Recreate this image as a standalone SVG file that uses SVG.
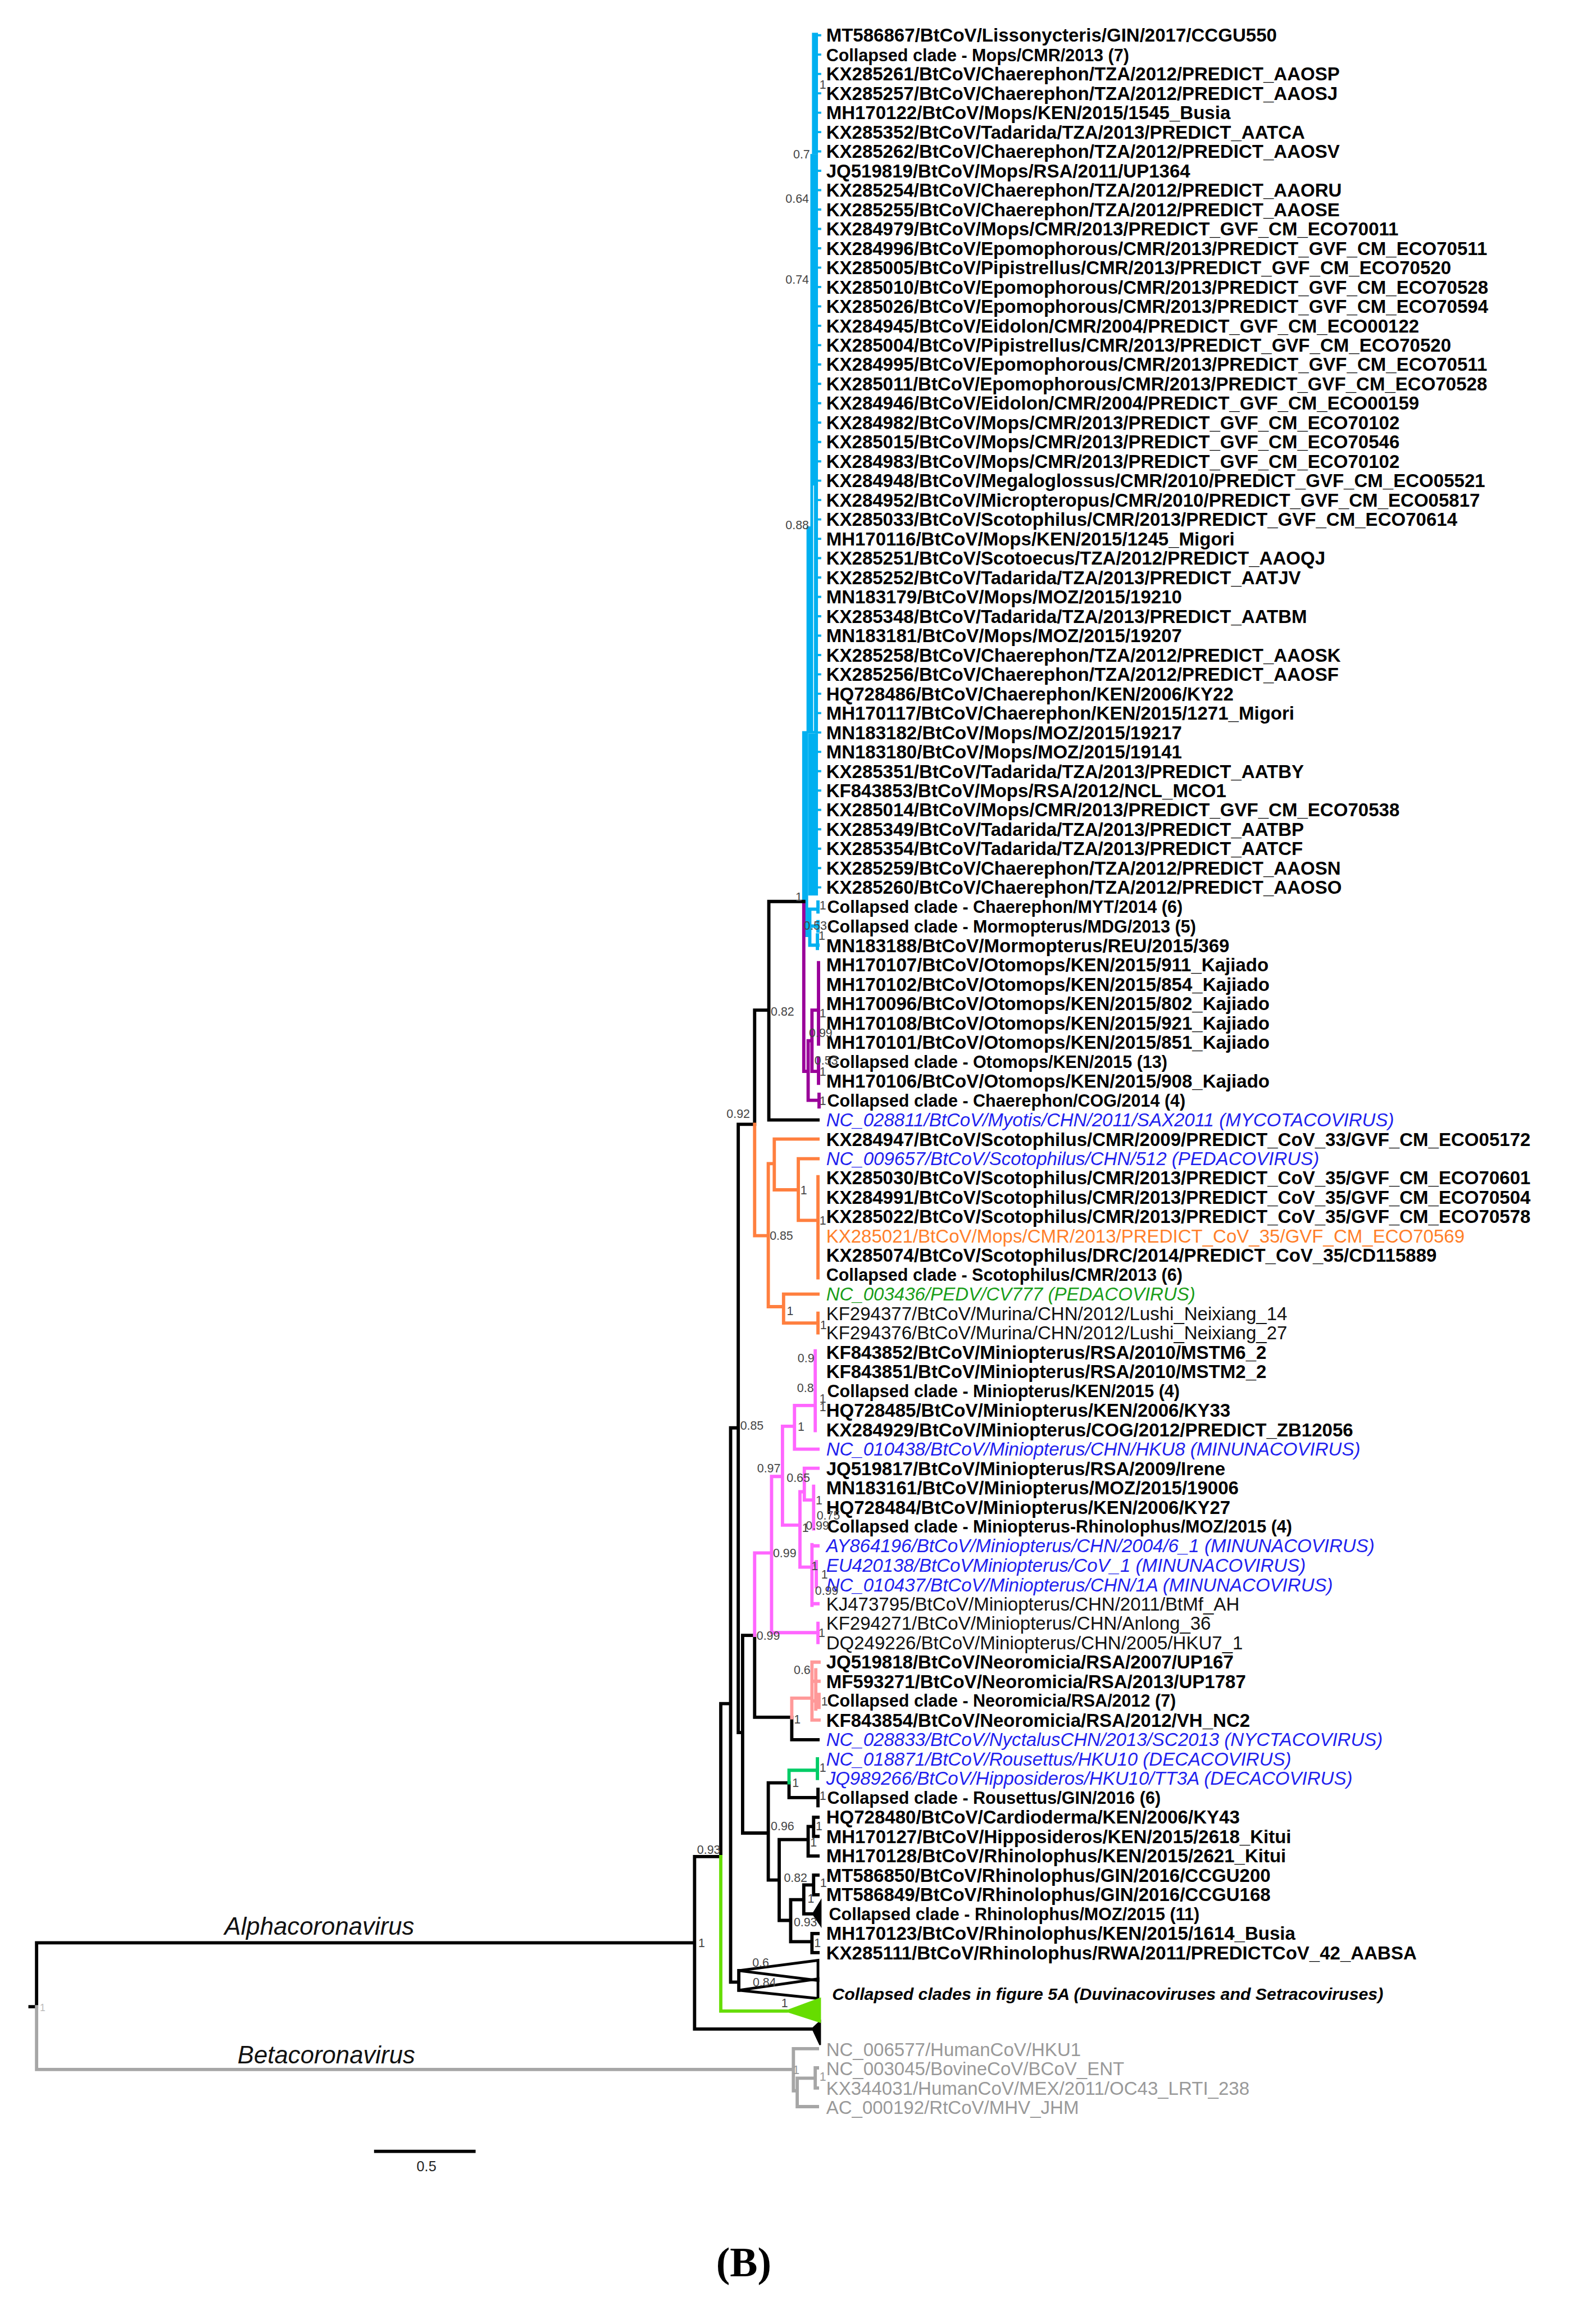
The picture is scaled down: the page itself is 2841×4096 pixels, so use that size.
<svg xmlns="http://www.w3.org/2000/svg" width="2841" height="4096" viewBox="0 0 2841 4096">
<style>
text{font-family:"Liberation Sans",Arial,sans-serif}
.br path,.br polyline{fill:none;stroke-width:6;stroke-linecap:square;stroke-linejoin:miter}
.k{stroke:#000}
.bl{stroke:#00B0F0}
.pu{stroke:#990099}
.or{stroke:#FF7F3F}
.pk{stroke:#FF66FF}
.sa{stroke:#FF9999}
.gr{stroke:#00CC66}
.li{stroke:#66DD00}
.gy{stroke:#A6A6A6}
.b{font-size:34px;font-weight:bold;fill:#000}
.c{font-size:31.4px;font-weight:bold;fill:#000}
.i{font-size:34px;font-style:italic;fill:#1f1fef}
.n{font-size:34px;fill:#111}
.o{font-size:34px;fill:#FF7F2A}
.g{font-size:34px;font-style:italic;fill:#1a9e1a}
.y{font-size:34px;fill:#999}
.s{font-size:22px;fill:#444;text-anchor:middle}
</style>
<rect width="2841" height="4096" fill="#fff"/>
<g transform="scale(0.972)">
<g id="connectors" class="br">
<g id="blue-clade">
<rect x="1487" y="60" width="11" height="222" fill="#00B0F0"/>
<rect x="1484" y="282" width="14" height="682" fill="#00B0F0"/>
<rect x="1477" y="964" width="21" height="379" fill="#00B0F0"/>
<rect x="1480" y="1343" width="18" height="297" fill="#00B0F0"/>
<path class="bl" d="M1472,1652V1342H1477 M1477,1343V1713H1483 M1483,1665V1731 M1483,1665H1498 M1483,1696H1498 M1483,1731H1498 M1498,1652V1670 M1498,1688V1705 M1497,1712V1737"/>
<path class="bl" style="stroke-width:4" d="M1495 64.5h7m-7 35.47h7m-7 35.47h7m-7 35.47h7m-7 35.47h7m-7 35.47h7m-7 35.47h7m-7 35.47h7m-7 35.47h7m-7 35.47h7m-7 35.47h7m-7 35.47h7m-7 35.47h7m-7 35.47h7m-7 35.47h7m-7 35.47h7m-7 35.47h7m-7 35.47h7m-7 35.47h7m-7 35.47h7m-7 35.47h7m-7 35.47h7m-7 35.47h7m-7 35.47h7m-7 35.47h7m-7 35.47h7m-7 35.47h7m-7 35.47h7m-7 35.47h7m-7 35.47h7m-7 35.47h7m-7 35.47h7m-7 35.47h7m-7 35.47h7m-7 35.47h7m-7 35.47h7m-7 35.47h7m-7 35.47h7m-7 35.47h7m-7 35.47h7m-7 35.47h7m-7 35.47h7m-7 35.47h7m-7 35.47h7m-7 35.47h7"/>
<path d="M1490,890V1338" style="stroke:#fff;stroke-width:1.5"/>
</g>
<path class="pu" d="M1472,1652V1962H1480 M1480,1906V2015H1500 M1500,2004V2027 M1480,1906H1487 M1487,1850V1962 M1487,1850H1499 M1499,1763V1912 M1487,1962H1499 M1499,1938V1984"/>
<path class="k" d="M55,3675H67 M67,3675V3558H1272 M1272,3400V3716 M1272,3400H1320V3120H1338 M1338,2615V3630H1353 M1353,3609V3645 M1338,2615H1352 M1352,2059V3173H1360 M1360,2995V3357 M1360,2995H1382V3145H1450V3186H1498 M1360,3357H1407 M1407,3265V3443 M1407,3265H1445 M1445,3265V3292H1498 M1498,3277V3307 M1407,3443H1427 M1427,3369V3517 M1427,3369H1480 M1480,3345V3399H1498 M1480,3345H1490 M1490,3328V3363 M1490,3328H1498 M1490,3363H1498 M1427,3517H1448 M1448,3479V3556 M1448,3479H1472 M1472,3452V3505H1490 M1472,3452H1490 M1490,3434V3470 M1490,3434H1498 M1490,3470H1498 M1448,3556H1487 M1487,3541V3576 M1487,3541H1498 M1487,3576H1498 M1272,3716H1490 M1352,2059H1382 M1382,2059V1850H1408 M1408,1651V2051H1498 M1408,1651H1472"/>
<polygon class="k" points="1353,3609 1498,3590 1498,3627" style="fill:none;stroke-width:5"/>
<polygon class="k" points="1353,3645 1498,3624 1498,3660" style="fill:none;stroke-width:5"/>
<polygon points="1488,3715 1502,3702 1502,3745" fill="#000" stroke="#000" stroke-width="3"/>
<polygon points="1489,3505 1503,3482 1503,3526" fill="#000" stroke="#000" stroke-width="3"/>
<path class="or" d="M1382,2059V2263H1407 M1407,2131V2393 M1407,2131H1418 M1418,2086V2179 M1418,2086H1498 M1418,2179H1462 M1462,2122V2235H1498 M1462,2122H1498 M1498,2155V2340 M1407,2393H1435 M1435,2370V2423H1498 M1435,2370H1498 M1498,2405V2441"/>
<path class="pk" d="M1382,2995V2844H1413 M1413,2704V2990H1498 M1498,2973V3008 M1413,2704H1433 M1433,2612V2793H1465 M1433,2612H1455 M1455,2574V2654H1498 M1455,2574H1493 M1493,2474V2620 M1465,2732V2870H1487 M1465,2732H1473 M1473,2689V2747H1490 M1473,2689H1498 M1490,2722V2800 M1487,2829V2940 M1487,2831H1498 M1487,2937H1498 M1487,2866H1495 M1495,2860V2906"/>
<path class="sa" d="M1450,3146V3110H1487 M1487,3044V3150 M1487,3044H1500 M1487,3079H1500 M1487,3115H1500 M1487,3150H1500 M1500,3103V3127 M1494,3058V3130"/>
<path class="gr" d="M1445,3265V3242H1497 M1497,3221V3257"/>
<path class="li" d="M1320,3400V3683H1440"/>
<polygon points="1440,3683 1502,3660 1502,3703" fill="#66DD00" stroke="#66DD00" stroke-width="3"/>
<path class="gy" d="M67,3675V3790H1453 M1453,3752V3829 M1453,3752H1497 M1453,3829H1460 M1460,3806V3858H1497 M1460,3806H1493 M1493,3787V3824 M1493,3787H1497 M1493,3824H1497"/>
<path class="k" d="M688,3940H868" style="stroke-width:6"/>
</g>
<g id="leaves">
<text id="n1" class="b" x="1513" y="76.5">MT586867/BtCoV/Lissonycteris/GIN/2017/CCGU550</text>
<text id="n2" class="c" x="1513" y="112">Collapsed clade - Mops/CMR/2013 (7)</text>
<text id="n3" class="b" x="1513" y="147.4">KX285261/BtCoV/Chaerephon/TZA/2012/PREDICT_AAOSP</text>
<text id="n4" class="b" x="1513" y="182.9">KX285257/BtCoV/Chaerephon/TZA/2012/PREDICT_AAOSJ</text>
<text id="n5" class="b" x="1513" y="218.4">MH170122/BtCoV/Mops/KEN/2015/1545_Busia</text>
<text id="n6" class="b" x="1513" y="253.9">KX285352/BtCoV/Tadarida/TZA/2013/PREDICT_AATCA</text>
<text id="n7" class="b" x="1513" y="289.3">KX285262/BtCoV/Chaerephon/TZA/2012/PREDICT_AAOSV</text>
<text id="n8" class="b" x="1513" y="324.8">JQ519819/BtCoV/Mops/RSA/2011/UP1364</text>
<text id="n9" class="b" x="1513" y="360.3">KX285254/BtCoV/Chaerephon/TZA/2012/PREDICT_AAORU</text>
<text id="n10" class="b" x="1513" y="395.7">KX285255/BtCoV/Chaerephon/TZA/2012/PREDICT_AAOSE</text>
<text id="n11" class="b" x="1513" y="431.2">KX284979/BtCoV/Mops/CMR/2013/PREDICT_GVF_CM_ECO70011</text>
<text id="n12" class="b" x="1513" y="466.7">KX284996/BtCoV/Epomophorous/CMR/2013/PREDICT_GVF_CM_ECO70511</text>
<text id="n13" class="b" x="1513" y="502.1">KX285005/BtCoV/Pipistrellus/CMR/2013/PREDICT_GVF_CM_ECO70520</text>
<text id="n14" class="b" x="1513" y="537.6">KX285010/BtCoV/Epomophorous/CMR/2013/PREDICT_GVF_CM_ECO70528</text>
<text id="n15" class="b" x="1513" y="573.1">KX285026/BtCoV/Epomophorous/CMR/2013/PREDICT_GVF_CM_ECO70594</text>
<text id="n16" class="b" x="1513" y="608.6">KX284945/BtCoV/Eidolon/CMR/2004/PREDICT_GVF_CM_ECO00122</text>
<text id="n17" class="b" x="1513" y="644">KX285004/BtCoV/Pipistrellus/CMR/2013/PREDICT_GVF_CM_ECO70520</text>
<text id="n18" class="b" x="1513" y="679.5">KX284995/BtCoV/Epomophorous/CMR/2013/PREDICT_GVF_CM_ECO70511</text>
<text id="n19" class="b" x="1513" y="715">KX285011/BtCoV/Epomophorous/CMR/2013/PREDICT_GVF_CM_ECO70528</text>
<text id="n20" class="b" x="1513" y="750.4">KX284946/BtCoV/Eidolon/CMR/2004/PREDICT_GVF_CM_ECO00159</text>
<text id="n21" class="b" x="1513" y="785.9">KX284982/BtCoV/Mops/CMR/2013/PREDICT_GVF_CM_ECO70102</text>
<text id="n22" class="b" x="1513" y="821.4">KX285015/BtCoV/Mops/CMR/2013/PREDICT_GVF_CM_ECO70546</text>
<text id="n23" class="b" x="1513" y="856.8">KX284983/BtCoV/Mops/CMR/2013/PREDICT_GVF_CM_ECO70102</text>
<text id="n24" class="b" x="1513" y="892.3">KX284948/BtCoV/Megaloglossus/CMR/2010/PREDICT_GVF_CM_ECO05521</text>
<text id="n25" class="b" x="1513" y="927.8">KX284952/BtCoV/Micropteropus/CMR/2010/PREDICT_GVF_CM_ECO05817</text>
<text id="n26" class="b" x="1513" y="963.3">KX285033/BtCoV/Scotophilus/CMR/2013/PREDICT_GVF_CM_ECO70614</text>
<text id="n27" class="b" x="1513" y="998.7">MH170116/BtCoV/Mops/KEN/2015/1245_Migori</text>
<text id="n28" class="b" x="1513" y="1034.2">KX285251/BtCoV/Scotoecus/TZA/2012/PREDICT_AAOQJ</text>
<text id="n29" class="b" x="1513" y="1069.7">KX285252/BtCoV/Tadarida/TZA/2013/PREDICT_AATJV</text>
<text id="n30" class="b" x="1513" y="1105.1">MN183179/BtCoV/Mops/MOZ/2015/19210</text>
<text id="n31" class="b" x="1513" y="1140.6">KX285348/BtCoV/Tadarida/TZA/2013/PREDICT_AATBM</text>
<text id="n32" class="b" x="1513" y="1176.1">MN183181/BtCoV/Mops/MOZ/2015/19207</text>
<text id="n33" class="b" x="1513" y="1211.5">KX285258/BtCoV/Chaerephon/TZA/2012/PREDICT_AAOSK</text>
<text id="n34" class="b" x="1513" y="1247">KX285256/BtCoV/Chaerephon/TZA/2012/PREDICT_AAOSF</text>
<text id="n35" class="b" x="1513" y="1282.5">HQ728486/BtCoV/Chaerephon/KEN/2006/KY22</text>
<text id="n36" class="b" x="1513" y="1318">MH170117/BtCoV/Chaerephon/KEN/2015/1271_Migori</text>
<text id="n37" class="b" x="1513" y="1353.4">MN183182/BtCoV/Mops/MOZ/2015/19217</text>
<text id="n38" class="b" x="1513" y="1388.9">MN183180/BtCoV/Mops/MOZ/2015/19141</text>
<text id="n39" class="b" x="1513" y="1424.4">KX285351/BtCoV/Tadarida/TZA/2013/PREDICT_AATBY</text>
<text id="n40" class="b" x="1513" y="1459.8">KF843853/BtCoV/Mops/RSA/2012/NCL_MCO1</text>
<text id="n41" class="b" x="1513" y="1495.3">KX285014/BtCoV/Mops/CMR/2013/PREDICT_GVF_CM_ECO70538</text>
<text id="n42" class="b" x="1513" y="1530.8">KX285349/BtCoV/Tadarida/TZA/2013/PREDICT_AATBP</text>
<text id="n43" class="b" x="1513" y="1566.2">KX285354/BtCoV/Tadarida/TZA/2013/PREDICT_AATCF</text>
<text id="n44" class="b" x="1513" y="1601.7">KX285259/BtCoV/Chaerephon/TZA/2012/PREDICT_AAOSN</text>
<text id="n45" class="b" x="1513" y="1637.2">KX285260/BtCoV/Chaerephon/TZA/2012/PREDICT_AAOSO</text>
<text id="n46" class="c" x="1515" y="1672">Collapsed clade - Chaerephon/MYT/2014 (6)</text>
<text id="n47" class="c" x="1515" y="1707.5">Collapsed clade - Mormopterus/MDG/2013 (5)</text>
<text id="n48" class="b" x="1513" y="1743.6">MN183188/BtCoV/Mormopterus/REU/2015/369</text>
<text id="n49" class="b" x="1513" y="1779.1">MH170107/BtCoV/Otomops/KEN/2015/911_Kajiado</text>
<text id="n50" class="b" x="1513" y="1814.5">MH170102/BtCoV/Otomops/KEN/2015/854_Kajiado</text>
<text id="n51" class="b" x="1513" y="1850">MH170096/BtCoV/Otomops/KEN/2015/802_Kajiado</text>
<text id="n52" class="b" x="1513" y="1885.5">MH170108/BtCoV/Otomops/KEN/2015/921_Kajiado</text>
<text id="n53" class="b" x="1513" y="1920.9">MH170101/BtCoV/Otomops/KEN/2015/851_Kajiado</text>
<text id="n54" class="c" x="1515" y="1955.5">Collapsed clade - Otomops/KEN/2015 (13)</text>
<text id="n55" class="b" x="1513" y="1991.9">MH170106/BtCoV/Otomops/KEN/2015/908_Kajiado</text>
<text id="n56" class="c" x="1515" y="2026.5">Collapsed clade - Chaerephon/COG/2014 (4)</text>
<text id="n57" class="i" x="1513" y="2062.8">NC_028811/BtCoV/Myotis/CHN/2011/SAX2011 (MYCOTACOVIRUS)</text>
<text id="n58" class="b" x="1513" y="2098.3">KX284947/BtCoV/Scotophilus/CMR/2009/PREDICT_CoV_33/GVF_CM_ECO05172</text>
<text id="n59" class="i" x="1513" y="2133.7">NC_009657/BtCoV/Scotophilus/CHN/512 (PEDACOVIRUS)</text>
<text id="n60" class="b" x="1513" y="2169.2">KX285030/BtCoV/Scotophilus/CMR/2013/PREDICT_CoV_35/GVF_CM_ECO70601</text>
<text id="n61" class="b" x="1513" y="2204.7">KX284991/BtCoV/Scotophilus/CMR/2013/PREDICT_CoV_35/GVF_CM_ECO70504</text>
<text id="n62" class="b" x="1513" y="2240.1">KX285022/BtCoV/Scotophilus/CMR/2013/PREDICT_CoV_35/GVF_CM_ECO70578</text>
<text id="n63" class="o" x="1513" y="2275.6">KX285021/BtCoV/Mops/CMR/2013/PREDICT_CoV_35/GVF_CM_ECO70569</text>
<text id="n64" class="b" x="1513" y="2311.1">KX285074/BtCoV/Scotophilus/DRC/2014/PREDICT_CoV_35/CD115889</text>
<text id="n65" class="c" x="1513" y="2345.5">Collapsed clade - Scotophilus/CMR/2013 (6)</text>
<text id="n66" class="g" x="1513" y="2382">NC_003436/PEDV/CV777 (PEDACOVIRUS)</text>
<text id="n67" class="n" x="1513" y="2417.5">KF294377/BtCoV/Murina/CHN/2012/Lushi_Neixiang_14</text>
<text id="n68" class="n" x="1513" y="2453">KF294376/BtCoV/Murina/CHN/2012/Lushi_Neixiang_27</text>
<text id="n69" class="b" x="1513" y="2488.4">KF843852/BtCoV/Miniopterus/RSA/2010/MSTM6_2</text>
<text id="n70" class="b" x="1513" y="2523.9">KF843851/BtCoV/Miniopterus/RSA/2010/MSTM2_2</text>
<text id="n71" class="c" x="1515" y="2558.5">Collapsed clade - Miniopterus/KEN/2015 (4)</text>
<text id="n72" class="b" x="1513" y="2594.8">HQ728485/BtCoV/Miniopterus/KEN/2006/KY33</text>
<text id="n73" class="b" x="1513" y="2630.3">KX284929/BtCoV/Miniopterus/COG/2012/PREDICT_ZB12056</text>
<text id="n74" class="i" x="1513" y="2665.8">NC_010438/BtCoV/Miniopterus/CHN/HKU8 (MINUNACOVIRUS)</text>
<text id="n75" class="b" x="1513" y="2701.2">JQ519817/BtCoV/Miniopterus/RSA/2009/Irene</text>
<text id="n76" class="b" x="1513" y="2736.7">MN183161/BtCoV/Miniopterus/MOZ/2015/19006</text>
<text id="n77" class="b" x="1513" y="2772.2">HQ728484/BtCoV/Miniopterus/KEN/2006/KY27</text>
<text id="n78" class="c" x="1515" y="2806.5">Collapsed clade - Miniopterus-Rhinolophus/MOZ/2015 (4)</text>
<text id="n79" class="i" x="1513" y="2843.1">AY864196/BtCoV/Miniopterus/CHN/2004/6_1 (MINUNACOVIRUS)</text>
<text id="n80" class="i" x="1513" y="2878.6">EU420138/BtCoVMiniopterus/CoV_1 (MINUNACOVIRUS)</text>
<text id="n81" class="i" x="1513" y="2914.1">NC_010437/BtCoV/Miniopterus/CHN/1A (MINUNACOVIRUS)</text>
<text id="n82" class="n" x="1513" y="2949.5">KJ473795/BtCoV/Miniopterus/CHN/2011/BtMf_AH</text>
<text id="n83" class="n" x="1513" y="2985">KF294271/BtCoV/Miniopterus/CHN/Anlong_36</text>
<text id="n84" class="n" x="1513" y="3020.5">DQ249226/BtCoV/Miniopterus/CHN/2005/HKU7_1</text>
<text id="n85" class="b" x="1513" y="3055.9">JQ519818/BtCoV/Neoromicia/RSA/2007/UP167</text>
<text id="n86" class="b" x="1513" y="3091.4">MF593271/BtCoV/Neoromicia/RSA/2013/UP1787</text>
<text id="n87" class="c" x="1515" y="3126">Collapsed clade - Neoromicia/RSA/2012 (7)</text>
<text id="n88" class="b" x="1513" y="3162.4">KF843854/BtCoV/Neoromicia/RSA/2012/VH_NC2</text>
<text id="n89" class="i" x="1513" y="3197.8">NC_028833/BtCoV/NyctalusCHN/2013/SC2013 (NYCTACOVIRUS)</text>
<text id="n90" class="i" x="1513" y="3233.3">NC_018871/BtCoV/Rousettus/HKU10 (DECACOVIRUS)</text>
<text id="n91" class="i" x="1513" y="3268.8">JQ989266/BtCoV/Hipposideros/HKU10/TT3A (DECACOVIRUS)</text>
<text id="n92" class="c" x="1515" y="3303.5">Collapsed clade - Rousettus/GIN/2016 (6)</text>
<text id="n93" class="b" x="1513" y="3339.7">HQ728480/BtCoV/Cardioderma/KEN/2006/KY43</text>
<text id="n94" class="b" x="1513" y="3375.2">MH170127/BtCoV/Hipposideros/KEN/2015/2618_Kitui</text>
<text id="n95" class="b" x="1513" y="3410.6">MH170128/BtCoV/Rhinolophus/KEN/2015/2621_Kitui</text>
<text id="n96" class="b" x="1513" y="3446.1">MT586850/BtCoV/Rhinolophus/GIN/2016/CCGU200</text>
<text id="n97" class="b" x="1513" y="3481.6">MT586849/BtCoV/Rhinolophus/GIN/2016/CCGU168</text>
<text id="n98" class="c" x="1518" y="3516">Collapsed clade - Rhinolophus/MOZ/2015 (11)</text>
<text id="n99" class="b" x="1513" y="3552.5">MH170123/BtCoV/Rhinolophus/KEN/2015/1614_Busia</text>
<text id="n100" class="b" x="1513" y="3588">KX285111/BtCoV/Rhinolophus/RWA/2011/PREDICTCoV_42_AABSA</text>
<text id="n101" class="c" x="1524" y="3663" style="font-style:italic;font-size:31.2px">Collapsed clades in figure 5A (Duvinacoviruses and Setracoviruses)</text>
<text id="n105" class="y" x="1513" y="3765.3">NC_006577/HumanCoV/HKU1</text>
<text id="n106" class="y" x="1513" y="3800.8">NC_003045/BovineCoV/BCoV_ENT</text>
<text id="n107" class="y" x="1513" y="3836.2">KX344031/HumanCoV/MEX/2011/OC43_LRTI_238</text>
<text id="n108" class="y" x="1513" y="3871.7">AC_000192/RtCoV/MHV_JHM</text>
</g>
<g id="support">
<text class="s" x="1507" y="163">1</text>
<text class="s" x="1468" y="290">0.7</text>
<text class="s" x="1460" y="371">0.64</text>
<text class="s" x="1460" y="520">0.74</text>
<text class="s" x="1460" y="969">0.88</text>
<text class="s" x="1463" y="1650">1</text>
<text class="s" x="1507" y="1666">1</text>
<text class="s" x="1493" y="1703">0.53</text>
<text class="s" x="1505" y="1721">1</text>
<text class="s" x="1433" y="1860">0.82</text>
<text class="s" x="1507" y="1863">1</text>
<text class="s" x="1503" y="1899">0.99</text>
<text class="s" x="1513" y="1950">0.53</text>
<text class="s" x="1507" y="1970">1</text>
<text class="s" x="1507" y="2024">1</text>
<text class="s" x="1352" y="2047">0.92</text>
<text class="s" x="1472" y="2187">1</text>
<text class="s" x="1507" y="2243">1</text>
<text class="s" x="1431" y="2271">0.85</text>
<text class="s" x="1447" y="2408">1</text>
<text class="s" x="1508" y="2434">1</text>
<text class="s" x="1377" y="2618">0.85</text>
<text class="s" x="1476" y="2495">0.9</text>
<text class="s" x="1475" y="2549">0.8</text>
<text class="s" x="1507" y="2569">1</text>
<text class="s" x="1507" y="2584">1</text>
<text class="s" x="1467" y="2620">1</text>
<text class="s" x="1408" y="2697">0.97</text>
<text class="s" x="1462" y="2714">0.65</text>
<text class="s" x="1500" y="2755">1</text>
<text class="s" x="1517" y="2783">0.75</text>
<text class="s" x="1475" y="2806">1</text>
<text class="s" x="1497" y="2801">0.99</text>
<text class="s" x="1437" y="2852">0.99</text>
<text class="s" x="1492" y="2875">1</text>
<text class="s" x="1510" y="2891">1</text>
<text class="s" x="1514" y="2921">0.99</text>
<text class="s" x="1505" y="2998">1</text>
<text class="s" x="1407" y="3003">0.99</text>
<text class="s" x="1469" y="3066">0.6</text>
<text class="s" x="1510" y="3123">1</text>
<text class="s" x="1460" y="3156">1</text>
<text class="s" x="1507" y="3245">1</text>
<text class="s" x="1457" y="3273">1</text>
<text class="s" x="1507" y="3296">1</text>
<text class="s" x="1433" y="3352">0.96</text>
<text class="s" x="1500" y="3352">1</text>
<text class="s" x="1490" y="3382">1</text>
<text class="s" x="1298" y="3395">0.93</text>
<text class="s" x="1457" y="3446">0.82</text>
<text class="s" x="1508" y="3456">1</text>
<text class="s" x="1485" y="3485">1</text>
<text class="s" x="1475" y="3528">0.93</text>
<text class="s" x="1497" y="3566">1</text>
<text class="s" x="1285" y="3566">1</text>
<text class="s" x="1393" y="3602">0.6</text>
<text class="s" x="1400" y="3638">0.84</text>
<text class="s" x="1437" y="3676">1</text>
<text class="s" x="1458" y="3798" style="fill:#999">1</text>
<text class="s" x="1507" y="3811" style="fill:#999">1</text>
<text class="s" x="78" y="3683" style="fill:#bbb;font-size:18px">1</text>
</g>
<g id="annotations">
<text x="411" y="3543" style="font-size:45px;font-style:italic;fill:#111">Alphacoronavirus</text>
<text x="435" y="3779" style="font-size:45px;font-style:italic;fill:#111">Betacoronavirus</text>
<text x="781" y="3976" style="font-size:26px;fill:#222;text-anchor:middle">0.5</text>
<text x="1362" y="4169" style="font-family:'Liberation Serif','Times New Roman',serif;font-size:76px;font-weight:bold;fill:#000;text-anchor:middle">(B)</text>
</g>
</g>
</svg>
